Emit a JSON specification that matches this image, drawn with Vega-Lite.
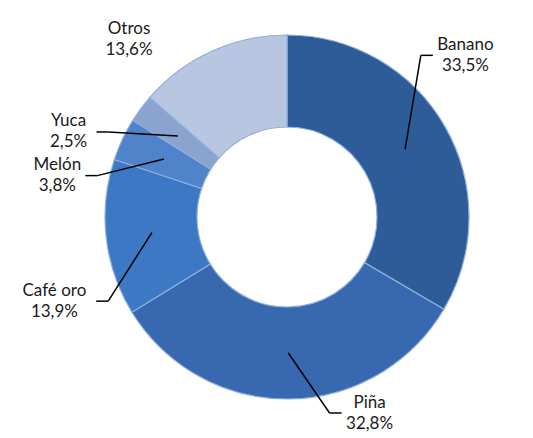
{
  "$schema": "https://vega.github.io/schema/vega-lite/v6.json",
  "autosize": {"type": "none"},
  "width": 492,
  "height": 434,
  "padding": {"left": 41, "top": 0, "right": 0, "bottom": 4},
  "background": "white",
  "config": {"view": {"stroke": null}},
  "data": {
    "values": [
      {"cultivo": "Banano", "pct": 33.5},
      {"cultivo": "Piña", "pct": 32.8},
      {"cultivo": "Café oro", "pct": 13.9},
      {"cultivo": "Melón", "pct": 3.8},
      {"cultivo": "Yuca", "pct": 2.5},
      {"cultivo": "Otros", "pct": 13.6}
    ]
  },
  "transform": [
    {"window": [{"op": "row_number", "as": "idx"}]},
    {"window": [{"op": "sum", "field": "pct", "as": "cum"}], "sort": [{"field": "idx"}], "frame": [null, 0]},
    {"joinaggregate": [{"op": "sum", "field": "pct", "as": "total"}]},
    {"calculate": "(datum.cum - datum.pct / 2) / datum.total * 2 * PI", "as": "mid"},
    {"calculate": "datum.mid - 0.26", "as": "la"},
    {"calculate": "datum.la > PI ? -1 : 1", "as": "side"},
    {"calculate": "136 * sin(datum.mid)", "as": "sx"},
    {"calculate": "136 * cos(datum.mid)", "as": "sy"},
    {"calculate": "205 * sin(datum.la)", "as": "ax"},
    {"calculate": "clamp(230 * cos(datum.la), -196, 196)", "as": "ay"},
    {"calculate": "datum.ax - 12 * datum.side", "as": "ex"},
    {"calculate": "4.6 * max(length(datum.cultivo), 5)", "as": "hw"},
    {"calculate": "datum.ax + datum.side * (datum.hw + 5)", "as": "lx"},
    {"calculate": "[datum.cultivo, replace(format(datum.pct, '.1f'), '.', ',') + '%']", "as": "label"}
  ],
  "layer": [
    {
      "mark": {"type": "arc", "outerRadius": 182, "innerRadius": 90, "stroke": "#8fb0dd", "strokeWidth": 1.2},
      "encoding": {
        "theta": {"field": "pct", "type": "quantitative", "stack": true},
        "order": {"field": "idx", "type": "quantitative"},
        "color": {
          "field": "cultivo",
          "type": "nominal",
          "scale": {
            "domain": ["Banano", "Piña", "Café oro", "Melón", "Yuca", "Otros"],
            "range": ["#2e5c99", "#3869b0", "#3d78c5", "#4f84ca", "#8aa4cf", "#b9c6e2"]
          },
          "legend": null
        }
      }
    },
    {
      "transform": [{"filter": "datum.cultivo != 'Otros'"}],
      "mark": {"type": "rule", "color": "black", "strokeWidth": 1.5},
      "encoding": {
        "x": {"field": "sx", "type": "quantitative", "scale": {"domain": [-246, 246]}, "axis": null},
        "y": {"field": "sy", "type": "quantitative", "scale": {"domain": [-217, 217]}, "axis": null},
        "x2": {"field": "ex"},
        "y2": {"field": "ay"}
      }
    },
    {
      "transform": [{"filter": "datum.cultivo != 'Otros'"}],
      "mark": {"type": "rule", "color": "black", "strokeWidth": 1.5},
      "encoding": {
        "x": {"field": "ex", "type": "quantitative", "scale": {"domain": [-246, 246]}, "axis": null},
        "y": {"field": "ay", "type": "quantitative", "scale": {"domain": [-217, 217]}, "axis": null},
        "x2": {"field": "ax"}
      }
    },
    {
      "mark": {"type": "text", "font": "Lato", "fontSize": 17, "lineHeight": 21, "baseline": "middle", "align": "center", "dy": -10.5, "color": "#1a1a1a"},
      "encoding": {
        "x": {"field": "lx", "type": "quantitative", "scale": {"domain": [-246, 246]}, "axis": null},
        "y": {"field": "ay", "type": "quantitative", "scale": {"domain": [-217, 217]}, "axis": null},
        "text": {"field": "label"}
      }
    }
  ]
}
